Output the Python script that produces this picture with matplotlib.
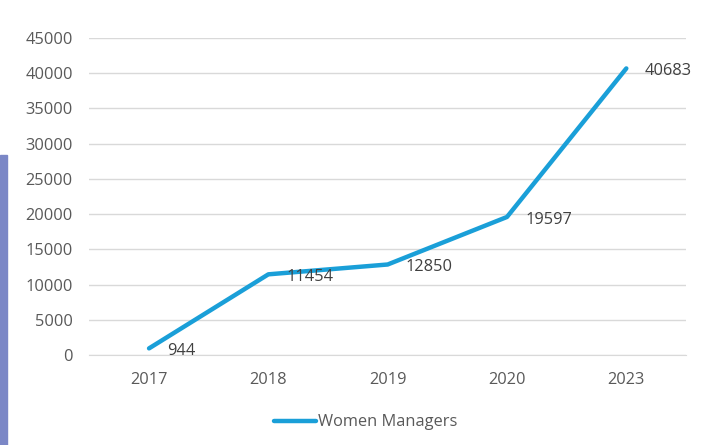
import matplotlib.pyplot as plt
from matplotlib.patches import Rectangle

years = ['2017', '2018', '2019', '2020', '2023']
women_managers = [944, 11454, 12850, 19597, 40683]

line_color = '#1a9fd8'
text_color = '#595959'
grid_color = '#d9d9d9'

plt.rcParams['font.family'] = ['Open Sans', 'DejaVu Sans']

fig = plt.figure(figsize=(7.18, 4.45), dpi=100)
ax = fig.add_axes([0.1245, 0.2022, 0.8309, 0.7124])

x = range(len(years))
line, = ax.plot(x, women_managers, color=line_color, linewidth=3.2,
                solid_capstyle='round', label='Women Managers')

for xi, v in zip(x, women_managers):
    ax.annotate(str(v), (xi, v), xytext=(13, -2), textcoords='offset points',
                ha='left', va='center', fontsize=11.8, color='#404040')

ax.set_xlim(-0.5, len(years) - 0.5)
ax.set_ylim(0, 45000)
ax.set_yticks(range(0, 45001, 5000))
ax.set_xticks(list(x))
ax.set_xticklabels(years)
ax.tick_params(axis='both', length=0, labelsize=11.8, colors=text_color)
ax.tick_params(axis='x', pad=12)
ax.tick_params(axis='y', pad=12)
ax.yaxis.grid(True, color=grid_color, linewidth=1)
ax.set_axisbelow(True)
for s in ['top', 'right', 'left']:
    ax.spines[s].set_visible(False)
ax.spines['bottom'].set_color(grid_color)

fig.legend(handles=[line], loc='lower center', bbox_to_anchor=(0.509, 0.0),
           frameon=False, fontsize=11.8, labelcolor=text_color,
           handlelength=2.6, handletextpad=0.1)

# purple strip at left edge
fig.patches.append(Rectangle((0, 0), 7 / 718, 290 / 445, transform=fig.transFigure,
                             color='#7b87c6', zorder=0))

fig.savefig('out.png', dpi=100)
